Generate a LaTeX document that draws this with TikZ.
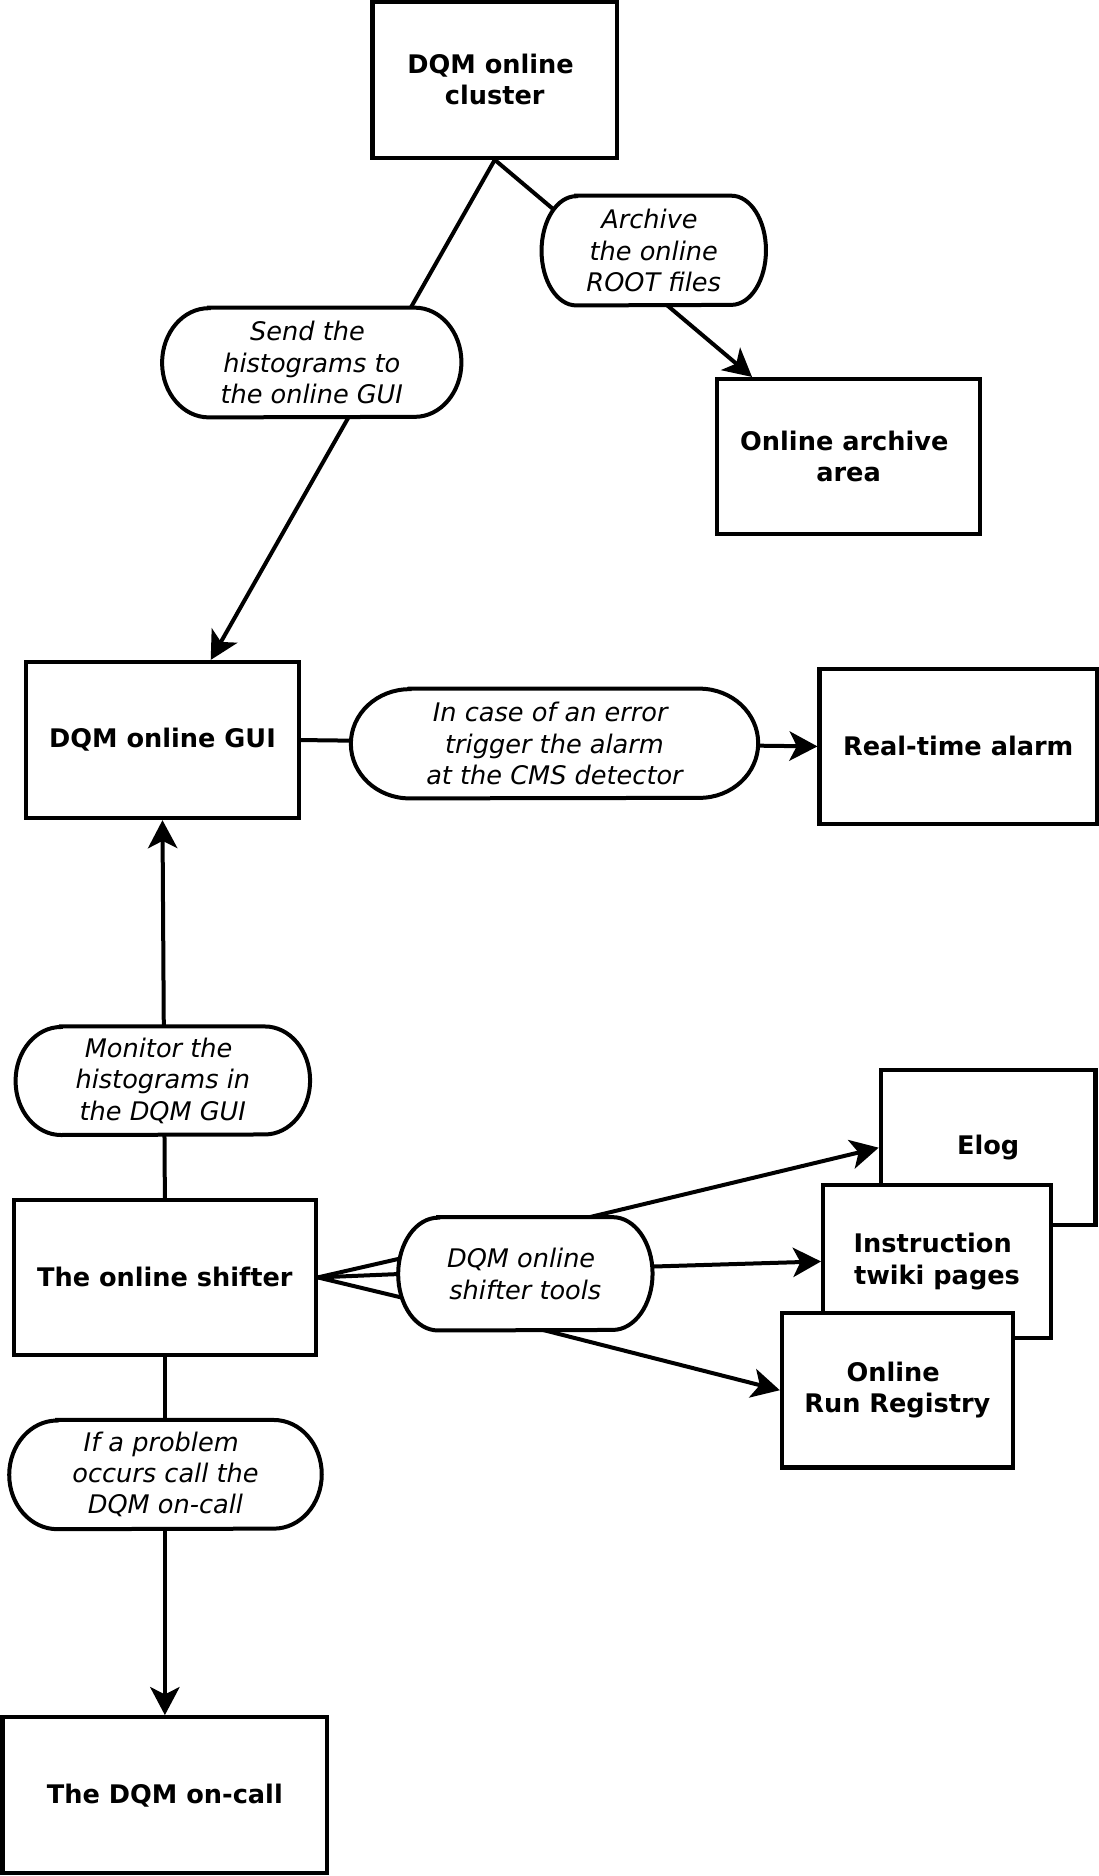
\documentclass[tikz,border=0pt]{standalone}
\usepackage{fontspec}
\setmainfont{DejaVu Sans}[BoldFont={DejaVu Sans Bold},ItalicFont={DejaVu Sans Oblique},BoldItalicFont={DejaVu Sans Bold Oblique}]
\usetikzlibrary{arrows.meta,calc}
\pgfdeclarelayer{lines}
\pgfdeclarelayer{pills}
\pgfsetlayers{lines,pills,main}
\newcommand\tsp{\hspace*{0.33em}}
% #1 node name, #2 end x radius, #3 end y radius (both in pt)
\newcommand\pillshape[3]{%
  \begin{pgfonlayer}{pills}
  \draw[pilldraw] ($(#1.north west)+(#2pt,0pt)$) -- ($(#1.north east)+(-#2pt,0pt)$)
    arc[start angle=90,end angle=-90,x radius=#2pt,y radius=#3pt]
    -- ($(#1.south west)+(#2pt,0pt)$)
    arc[start angle=270,end angle=90,x radius=#2pt,y radius=#3pt] -- cycle;
  \end{pgfonlayer}}
\begin{document}
\begin{tikzpicture}[x=0.9pt,y=-0.9pt,
  box/.style={draw, line width=3.2pt, fill=white, align=center, inner sep=0pt,
     font=\bfseries\fontsize{19.2}{23.5}\selectfont},
  pill/.style={align=center, inner sep=0pt,
     font=\itshape\fontsize{19.2}{23.5}\selectfont},
  pilldraw/.style={draw, line width=3pt, fill=white},
  conn/.style={line width=3pt},
  arr/.style={conn, -{Stealth[length=21pt,width=22pt,inset=5.5pt]}}]
\useasboundingbox (0,0) rectangle (915,1563.33);

\node[box, minimum width=183.3pt, minimum height=117pt] (cluster) at (412.3,66.4) {DQM online\tsp\\cluster};
\node[pill, minimum width=167.9pt, minimum height=81.9pt] (archpill) at (544.8,208.8) {Archive\tsp\\the online\tsp\\ROOT files};
\node[pill, minimum width=224.1pt, minimum height=81.9pt] (sendpill) at (259.8,302.1) {Send the\tsp\\histograms to\tsp\\the online GUI};
\node[box, minimum width=197.1pt, minimum height=116.1pt] (archive) at (707.1,380.4) {Online archive\tsp\\area};
\node[box, minimum width=204.8pt, minimum height=117pt] (gui) at (135.4,616.7) {DQM online GUI};
\node[pill, minimum width=305.1pt, minimum height=81.9pt] (errpill) at (462.1,619.6) {In case of an error\tsp\\trigger the alarm\tsp\\at the CMS detector};
\node[box, minimum width=207.9pt, minimum height=116.1pt] (alarm) at (798.5,622) {Real-time alarm};
\node[pill, minimum width=220.5pt, minimum height=81pt] (monpill) at (135.7,900.6) {Monitor the\tsp\\histograms in\tsp\\the DQM GUI};
\node[box, minimum width=161.1pt, minimum height=116.4pt] (elog) at (823.5,956.4) {Elog};
\node[box, minimum width=170.7pt, minimum height=114.8pt] (twiki) at (780.8,1051.2) {Instruction\tsp\\twiki pages};
\node[box, minimum width=173.1pt, minimum height=116.1pt] (registry) at (747.8,1158.5) {Online\tsp\\Run Registry};
\node[box, minimum width=226.2pt, minimum height=116.1pt] (shifter) at (137.4,1064.5) {The online shifter};
\node[pill, minimum width=190.4pt, minimum height=84.6pt] (tools) at (437.8,1061.5) {DQM online\tsp\\shifter tools};
\node[pill, minimum width=234pt, minimum height=81.5pt] (ifpill) at (137.9,1228.8) {If a problem\tsp\\occurs call the\tsp\\DQM on-call};
\node[box, minimum width=243.7pt, minimum height=117pt] (oncall) at (137.4,1496) {The DQM on-call};

\pillshape{archpill}{26}{40.95}
\pillshape{sendpill}{35}{40.95}
\pillshape{errpill}{44}{40.95}
\pillshape{monpill}{34}{40.5}
\pillshape{tools}{30}{42.3}
\pillshape{ifpill}{36}{40.75}

\begin{pgfonlayer}{lines}
\draw[arr] (cluster.south) -- ($(gui.north)+(40.2,0)$);
\draw[arr] (cluster.south) -- ($(archive.north)+(-80.4,0)$);
\draw[arr] (gui.east) -- (alarm.west);
\draw[arr] (shifter.north) -- (gui.south);
\draw[arr] (shifter.south) -- (oncall.north);
\draw[conn] (shifter.east) -- ($(tools.west)+(5,-13.5)$);
\draw[conn] (shifter.east) -- ($(tools.west)+(5,0)$);
\draw[conn] (shifter.east) -- ($(tools.west)+(8,21)$);
\draw[arr] ($(tools.north)+(45.2,2)$) -- (elog.west);
\draw[arr] ($(tools.east)+(-2,-6)$) -- (twiki.west);
\draw[arr] ($(tools.south)+(8.6,-2)$) -- (registry.west);
\end{pgfonlayer}
\end{tikzpicture}
\end{document}
